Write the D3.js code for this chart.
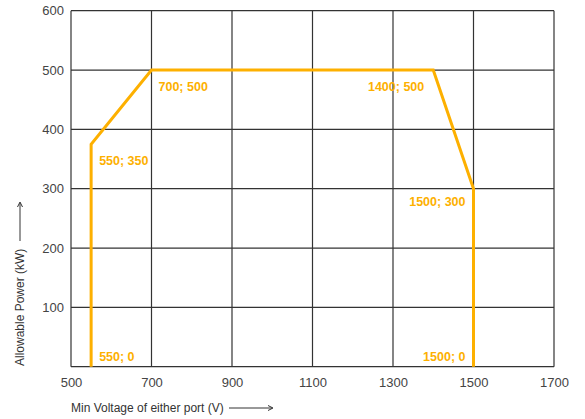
<!DOCTYPE html>
<html><head><meta charset="utf-8">
<script src="https://cdn.jsdelivr.net/npm/d3@7"></script>
<style>body{margin:0;background:#fff}svg{display:block}text{font-family:"Liberation Sans",Arial,sans-serif}</style>
</head><body>
<svg id="c" width="585" height="419"></svg>
<script>
const xTicks = [500, 700, 900, 1100, 1300, 1500, 1700];
const yTicks = [100, 200, 300, 400, 500, 600];
const curveV = [550, 550, 700, 1400, 1500, 1500];
const curveP = [0, 375, 500, 500, 300, 0];
const labels = ["550; 0", "550; 350", "700; 500", "1400; 500", "1500; 300", "1500; 0"];
const labelV = [550, 550, 700, 1400, 1500, 1500];
const labelP = [0, 375, 500, 500, 300, 0];
const labelAnchor = ["start", "start", "start", "end", "end", "end"];

const svg = d3.select("#c");
const x = d3.scaleLinear().domain([500, 1700]).range([71, 554]);
const y = d3.scaleLinear().domain([0, 600]).range([366.7, 10.7]);
const orange = "#FDB000";

// grid
svg.append("g").selectAll("line").data(xTicks).join("line")
  .attr("x1", d => x(d)).attr("x2", d => x(d)).attr("y1", y(0)).attr("y2", y(600))
  .attr("stroke", "#333").attr("stroke-width", 1.2);
svg.append("g").selectAll("line").data([0].concat(yTicks)).join("line")
  .attr("x1", x(500)).attr("x2", x(1700)).attr("y1", d => y(d)).attr("y2", d => y(d))
  .attr("stroke", "#333").attr("stroke-width", 1.2);

// axes labels
const xa = svg.append("g").attr("transform", `translate(0,${y(0)})`)
  .call(d3.axisBottom(x).tickValues(xTicks).tickFormat(d3.format("d")).tickSize(0).tickPadding(11));
xa.select(".domain").remove();
xa.selectAll("text").attr("font-size", 13).attr("fill", "#444");
const ya = svg.append("g").attr("transform", `translate(${x(500)},0)`)
  .call(d3.axisLeft(y).tickValues(yTicks).tickFormat(d3.format("d")).tickSize(0).tickPadding(7));
ya.select(".domain").remove();
ya.selectAll("text").attr("font-size", 13).attr("fill", "#444");

// curve
const pts = curveV.map((v, i) => [v, curveP[i]]);
svg.append("path").datum(pts)
  .attr("d", d3.line().x(d => x(d[0])).y(d => y(d[1])))
  .attr("fill", "none").attr("stroke", orange).attr("stroke-width", 3).attr("stroke-linejoin", "miter");

// point labels
const dx = [8, 8, 7, -9, -8, -8];
const dy = [-6, 21, 21, 21, 17, -6];
svg.append("g").selectAll("text").data(labels).join("text")
  .attr("x", (d, i) => x(labelV[i]) + dx[i])
  .attr("y", (d, i) => y(labelP[i]) + dy[i])
  .attr("text-anchor", (d, i) => labelAnchor[i])
  .attr("font-size", 12.5).attr("font-weight", "bold").attr("fill", orange)
  .text(d => d);

// axis titles
svg.append("text").attr("x", 71).attr("y", 412).attr("font-size", 12).attr("fill", "#333")
  .text("Min Voltage of either port (V)");
svg.append("line").attr("x1", 229).attr("x2", 272).attr("y1", 408).attr("y2", 408).attr("stroke", "#333").attr("stroke-width", 1);
svg.append("path").attr("d", "M268,405.5 L273,408 L268,410.5").attr("fill", "none").attr("stroke", "#333").attr("stroke-width", 1);

svg.append("text").attr("transform", "translate(24,366) rotate(-90)").attr("font-size", 12).attr("fill", "#333")
  .text("Allowable Power (kW)");
svg.append("line").attr("x1", 20).attr("x2", 20).attr("y1", 241).attr("y2", 203).attr("stroke", "#333").attr("stroke-width", 1);
svg.append("path").attr("d", "M17.5,207 L20,202 L22.5,207").attr("fill", "none").attr("stroke", "#333").attr("stroke-width", 1);
</script>
</body></html>
